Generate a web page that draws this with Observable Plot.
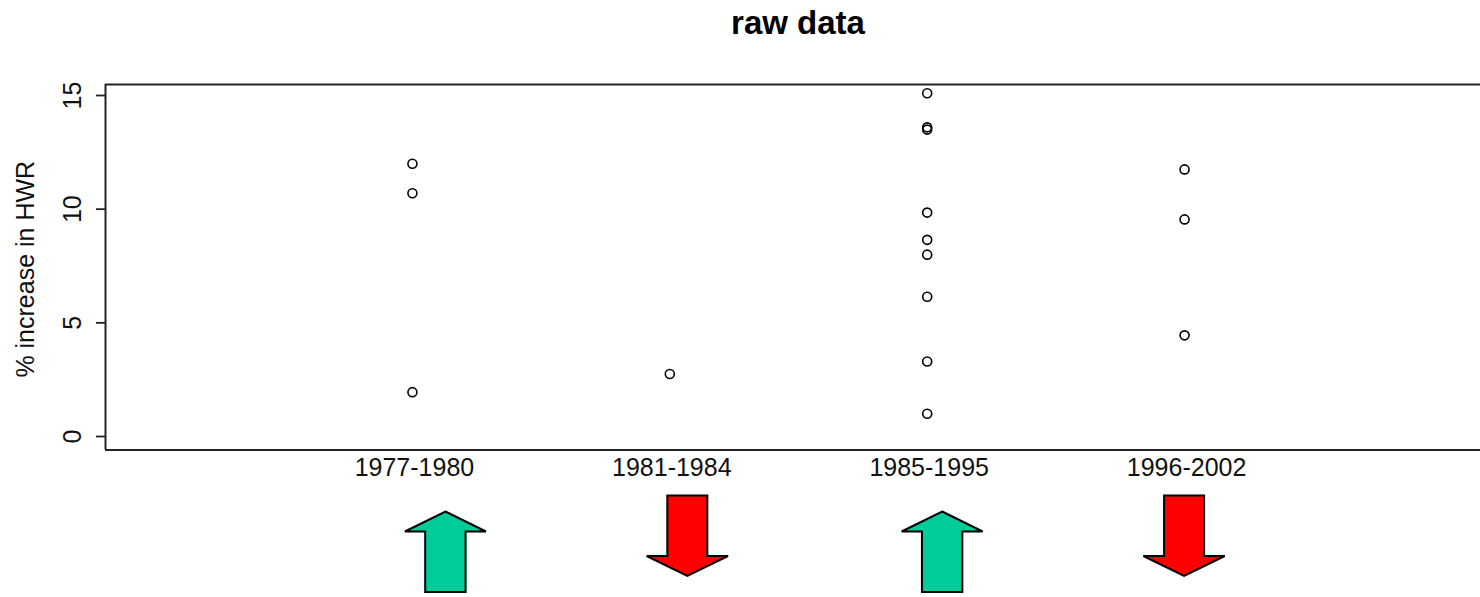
<!DOCTYPE html>
<html><head><meta charset="utf-8">
<script src="https://cdn.jsdelivr.net/npm/d3@7"></script>
<script src="https://cdn.jsdelivr.net/npm/@observablehq/plot@0.6"></script>
<style>
html,body{margin:0;padding:0;background:#fff;overflow:hidden;}
#wrap{position:relative;width:1480px;height:597px;}
#title{position:relative;height:60px;}
#title span{position:absolute;left:798px;top:6px;transform:translateX(-50%);white-space:nowrap;font:bold 33px/33px "Liberation Sans",Arial,sans-serif;color:#000;}
</style></head><body>
<div id="wrap"><div id="title"><span>raw data</span></div><div id="chart"></div></div>
<script>
// ---- data ----
const periods = ["1977-1980", "1981-1984", "1985-1995", "1996-2002"];
const values1977 = [12.0, 10.7, 1.95];
const values1981 = [2.75];
const values1985 = [15.1, 13.6, 13.5, 9.85, 8.65, 8.0, 6.15, 3.3, 1.0];
const values1996 = [11.75, 9.55, 4.45];
const yTicks = [0, 5, 10, 15];
const yLabel = "% increase in HWR";
const arrowDir = ["up", "down", "up", "down"];
const arrowAt = [1.13, 2.07, 3.06, 4.0];

const seriesValues = [values1977, values1981, values1985, values1996];
const rows = [];
seriesValues.forEach((vals, i) => vals.forEach(v => rows.push({period: periods[i], pos: i + 1, value: v})));
const arrows = arrowAt.map((x, i) => ({x, dir: arrowDir[i]}));

const xMin = -0.1925, xMax = 5.1925;
const yMin = -0.594, yMax = 15.484;

function arrowMark(index, scales, values, dimensions) {
  const sx = typeof scales.x === "function" ? scales.x : (v => scales.scales.x.apply(v));
  const base = dimensions.height - dimensions.marginBottom;
  const g = d3.create("svg:g");
  const up = [[0,62],[40.5,82],[20.2,82],[20.2,142.5],[-20.2,142.5],[-20.2,82],[-40.5,82]];
  const down = [[-20,46],[20,46],[20,106.5],[40.7,106.5],[0,126.5],[-40.7,106.5],[-20,106.5]];
  arrows.forEach(a => {
    const cx = sx(a.x);
    const pts = a.dir === "up" ? up : down;
    g.append("polygon")
      .attr("points", pts.map(([dx, dy]) => `${cx + dx},${base + dy}`).join(" "))
      .attr("fill", a.dir === "up" ? "#00CC99" : "#FF0000")
      .attr("stroke", "#000").attr("stroke-width", 2).attr("stroke-linejoin", "miter");
  });
  return g.node();
}

const chart = Plot.plot({
  width: 1480,
  height: 537,
  marginLeft: 105,
  marginRight: 0,
  marginTop: 24,
  marginBottom: 147.5,
  style: {fontFamily: "'Liberation Sans', Arial, sans-serif", fontSize: "25px", background: "white", color: "#000"},
  x: {domain: [xMin, xMax], range: [105, 1491], axis: null},
  y: {domain: [yMin, yMax], axis: null},
  marks: [
    Plot.ruleY([yMin, yMax], {stroke: "#222", strokeWidth: 2}),
    Plot.ruleX([xMin], {stroke: "#222", strokeWidth: 2}),
    Plot.ruleY(yTicks, {x1: xMin, x2: xMin, insetLeft: -9, stroke: "#222", strokeWidth: 1.8}),
    Plot.text(yTicks, {y: d => d, text: d => String(d), frameAnchor: "left", dx: -25, rotate: -90,
      textAnchor: "middle", lineAnchor: "bottom", fontSize: 25, fill: "#111"}),
    Plot.text([yLabel], {frameAnchor: "left", dx: -72, dy: 2, rotate: -90, textAnchor: "middle",
      lineAnchor: "bottom", fontSize: 25, fill: "#111"}),
    Plot.text(periods, {x: (d, i) => i + 1, text: d => d, frameAnchor: "bottom", dy: 26, dx: 2,
      textAnchor: "middle", lineAnchor: "bottom", fontSize: 25, fill: "#111"}),
    Plot.dot(rows, {x: "pos", y: "value", r: 4.5, stroke: "#000", strokeWidth: 1.6, fill: "none"}),
    arrowMark
  ]
});
document.getElementById("chart").appendChild(chart);
</script>
</body></html>
